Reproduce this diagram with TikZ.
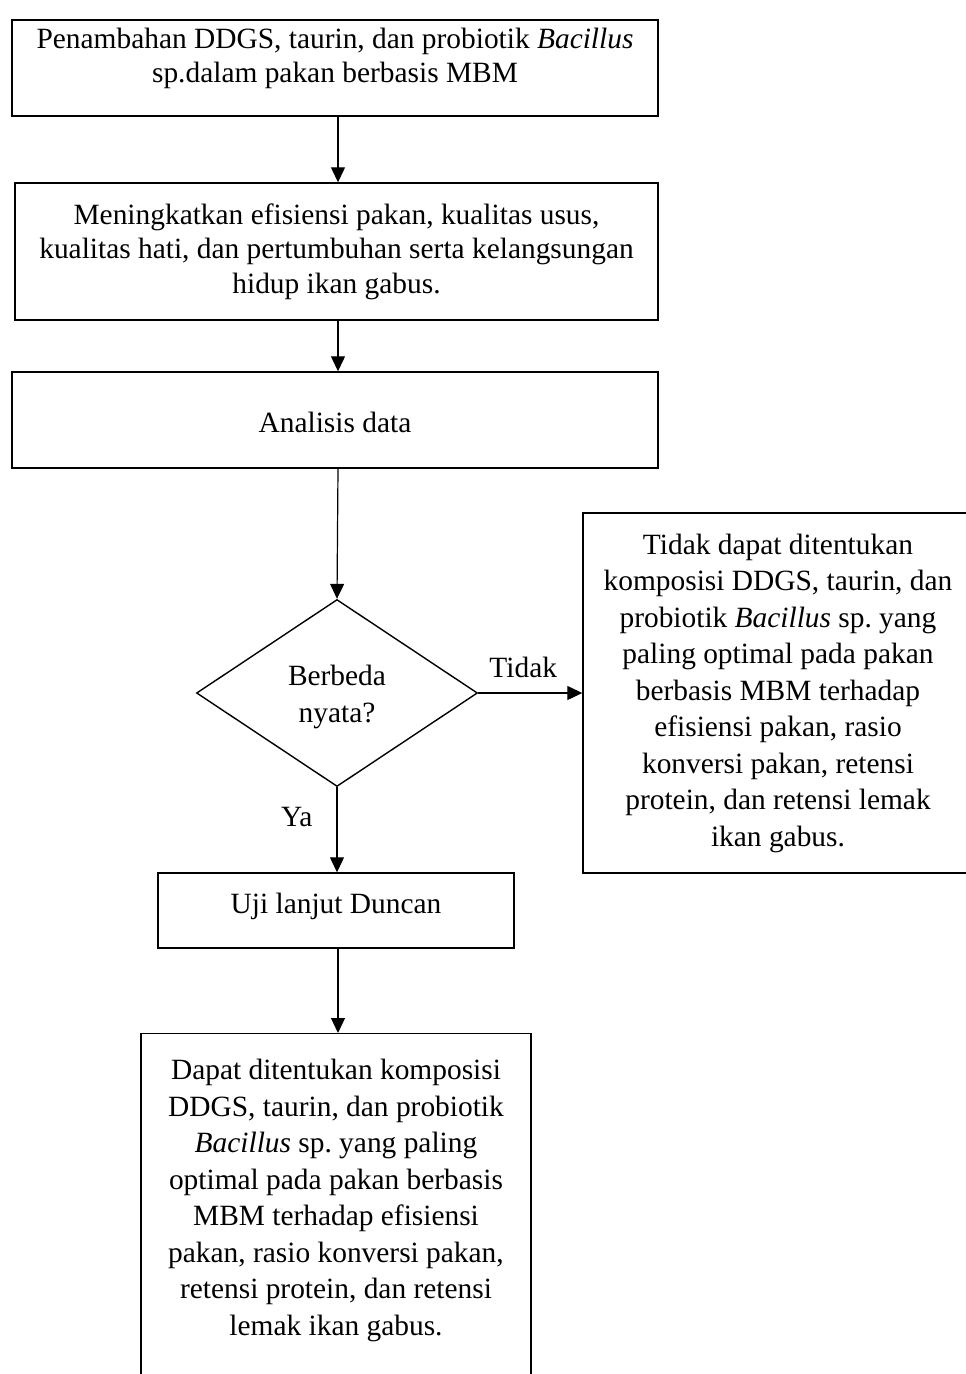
\documentclass[tikz,border=0pt]{standalone}
\usepackage{fontspec}
\setmainfont{Liberation Serif}
\frenchspacing
\usetikzlibrary{shapes.geometric,arrows.meta}
\begin{document}
\begin{tikzpicture}[x=1pt,y=-1pt,
  box/.style={draw,line width=1.4pt,align=center,inner sep=0pt,font=\fontsize{29.4}{34.5}\selectfont},
  tbox/.style={box,font=\fontsize{29.4}{36.5}\selectfont},
  dbox/.style={box,font=\fontsize{29.4}{37}\selectfont},
  lbl/.style={font=\fontsize{29.4}{35}\selectfont,inner sep=0pt},
  arr/.style={line width=1.2pt,-{Triangle[length=15pt,width=14pt]}}]
\useasboundingbox (0,0) rectangle (966,1374);
\begin{scope}
\clip (0,0) rectangle (966,1374);
\node[box,minimum width=646pt,minimum height=96pt] (b1) at (335,68)
  {Penambahan DDGS, taurin, dan probiotik \textit{Bacillus}\\ sp.dalam pakan berbasis MBM\\[-9pt] ~};
\node[box,minimum width=643pt,minimum height=137pt] (b2) at (336.5,251.5)
  {Meningkatkan efisiensi pakan, kualitas usus,\\ kualitas hati, dan pertumbuhan serta kelangsungan\\ hidup ikan gabus.};
\node[box,minimum width=646pt,minimum height=96pt] (b3) at (335,420)
  {\rule{0pt}{26pt}Analisis data};
\node[dbox,diamond,minimum width=281pt,minimum height=187pt] (d) at (337,693)
  {\rule{0pt}{28pt}Berbeda\\ nyata?};
\node[tbox,minimum width=390pt,minimum height=360pt] (r) at (778,693)
  {Tidak dapat ditentukan\\ komposisi DDGS, taurin, dan\\ probiotik \textit{Bacillus} sp. yang\\ paling optimal pada pakan\\ berbasis MBM terhadap\\ efisiensi pakan, rasio\\ konversi pakan, retensi\\ protein, dan retensi lemak\\ ikan gabus.};
\node[box,minimum width=356pt,minimum height=75pt] (u) at (336,910.5)
  {Uji lanjut Duncan\\[-20pt]~};
\node[tbox,anchor=north,minimum width=390pt,minimum height=400pt] (f) at (336,1033)
  {Dapat ditentukan komposisi\\ DDGS, taurin, dan probiotik\\ \textit{Bacillus} sp. yang paling\\ optimal pada pakan berbasis\\ MBM terhadap efisiensi\\ pakan, rasio konversi pakan,\\ retensi protein, dan retensi\\ lemak ikan gabus.\\ ~\\ ~};
\end{scope}
\draw[arr] (b1.south -| 338,0) -- (b2.north -| 338,0);
\draw[arr] (b2.south -| 338,0) -- (b3.north -| 338,0);
\draw[arr] (b3.south -| 338,0) -- (d.north);
\draw[arr] (d.east) -- node[lbl,above=15pt,xshift=-7pt] (tl) {Tidak} (r.west);
\draw[arr] (d.south) -- node[lbl,left=24pt,pos=0.35] (yl) {Ya} (u.north -| d.south);
\draw[arr] (u.south -| 338,0) -- (f.north -| 338,0);
\end{tikzpicture}
\end{document}
